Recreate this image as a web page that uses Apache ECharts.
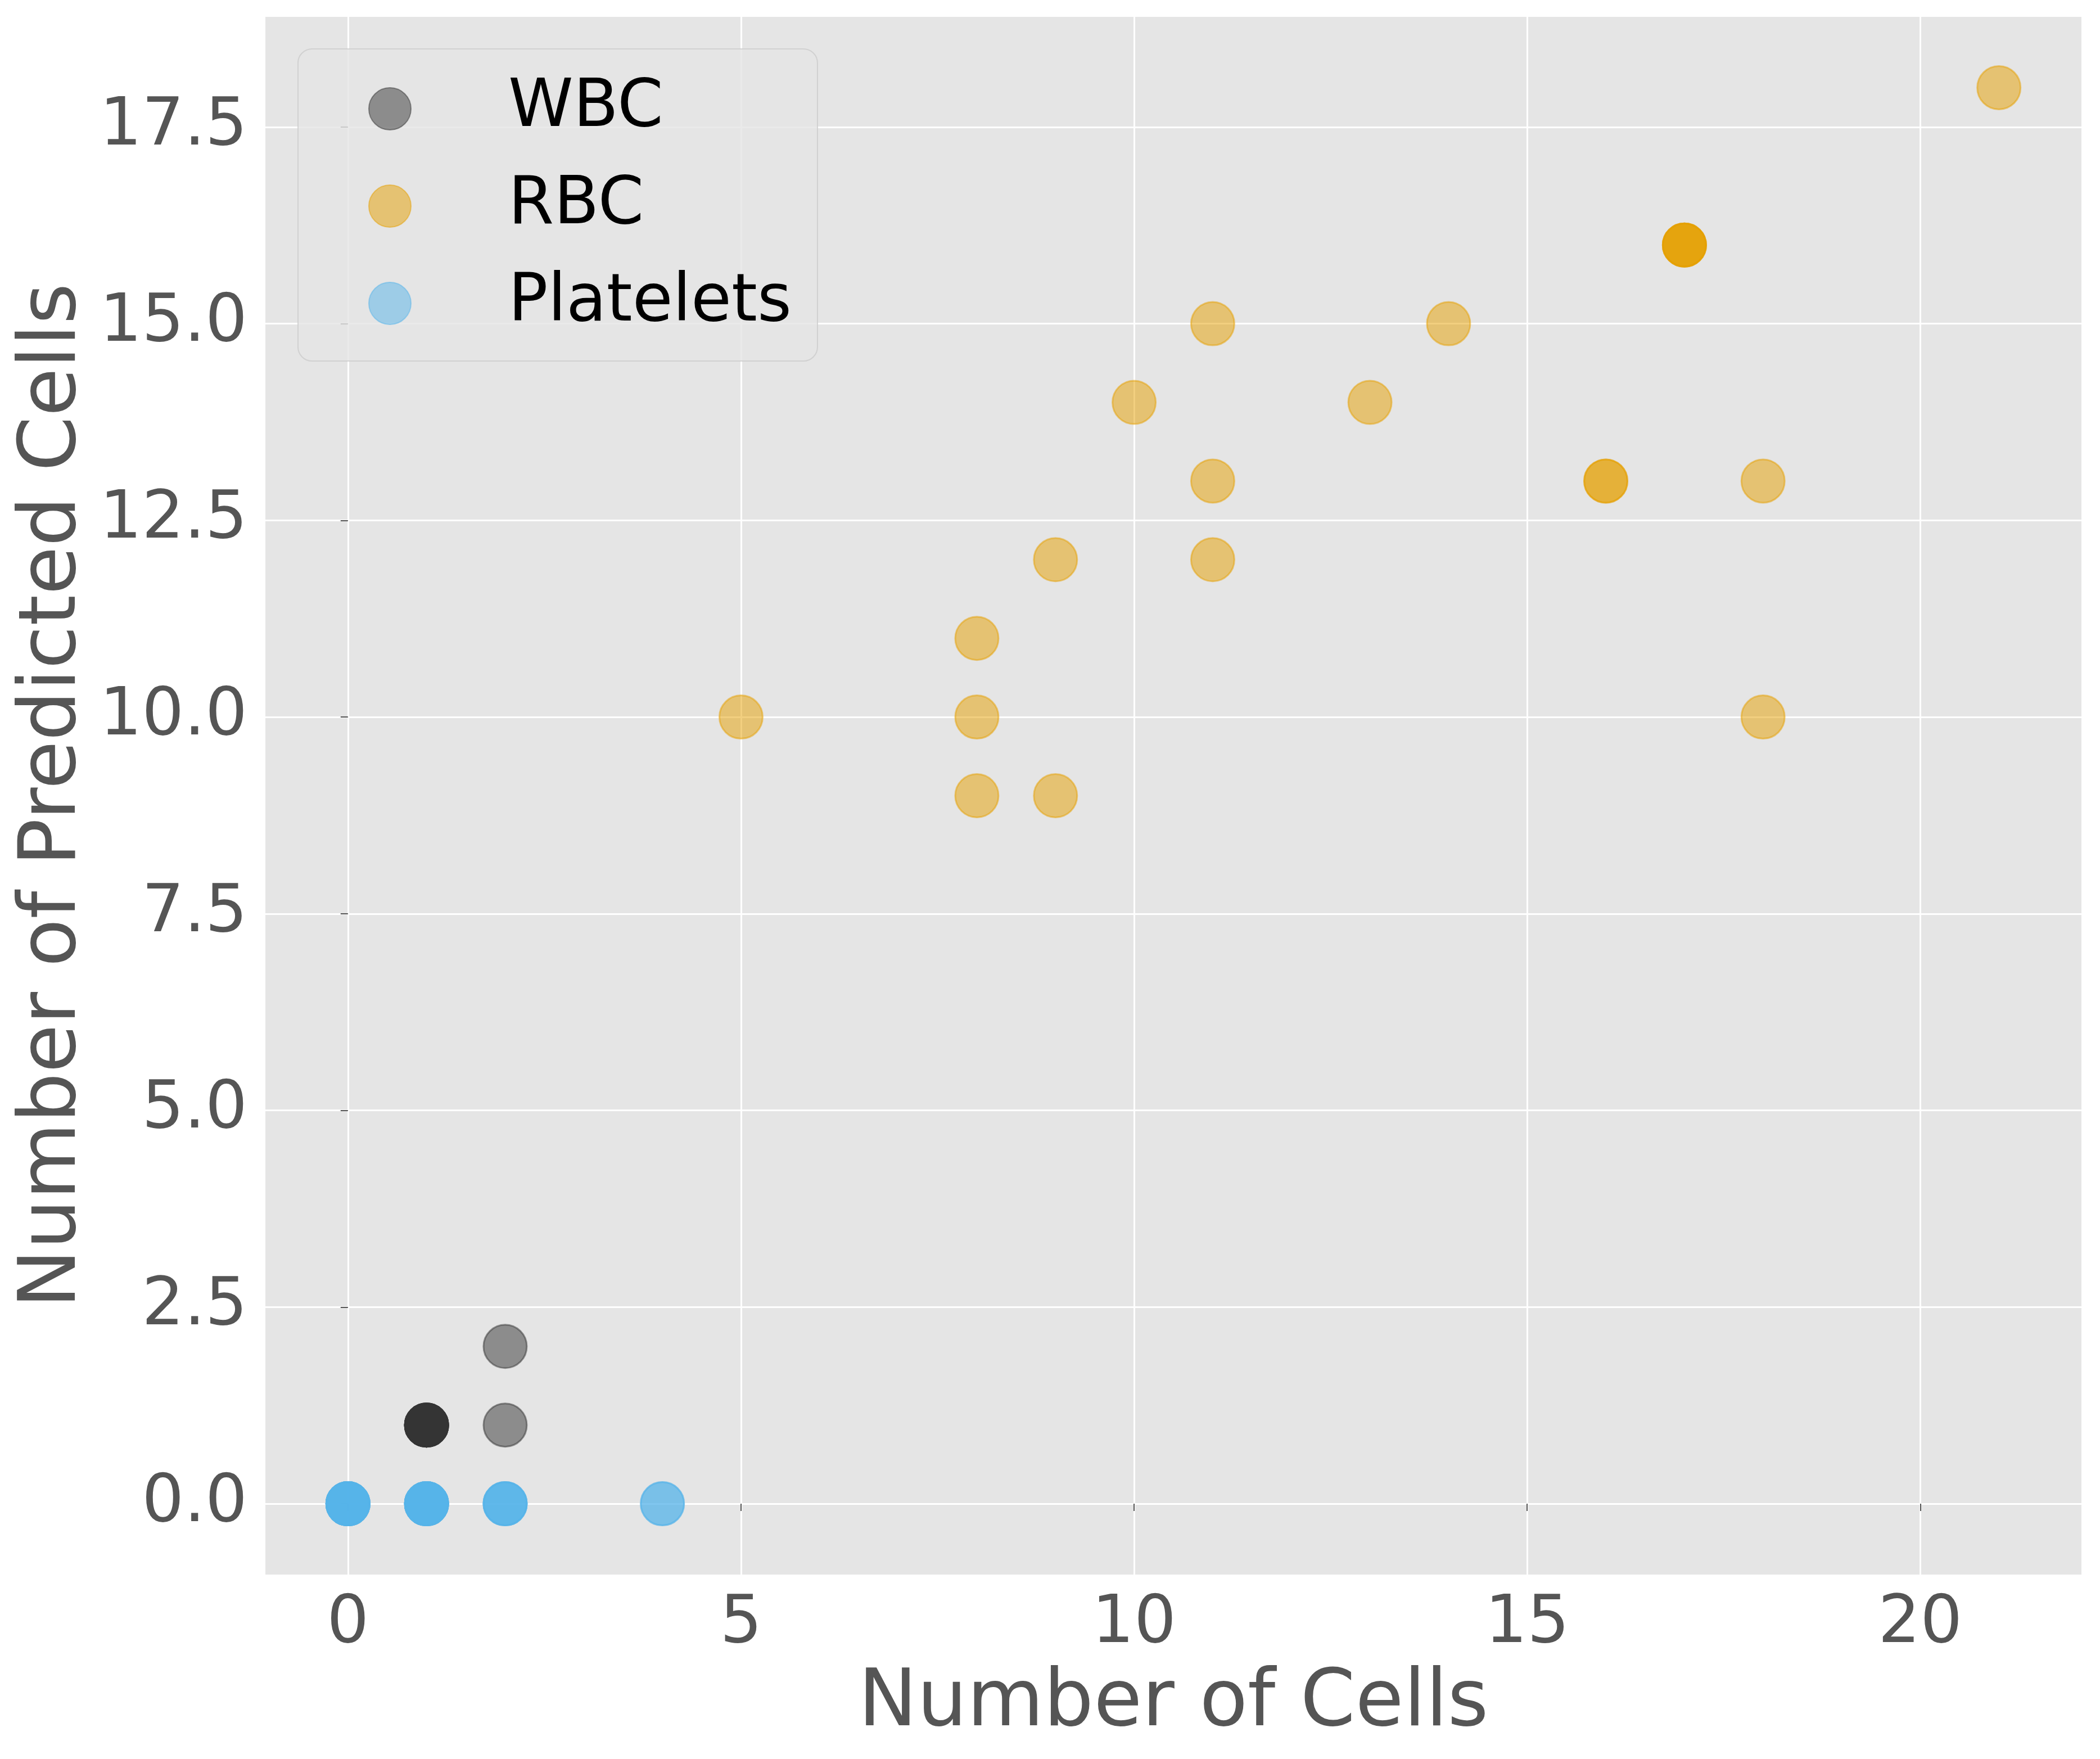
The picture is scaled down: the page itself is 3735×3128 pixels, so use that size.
<!DOCTYPE html>
<html>
<head>
<meta charset="utf-8">
<script src="https://cdn.jsdelivr.net/npm/echarts@6/dist/echarts.min.js"></script>
<style>html,body{margin:0;padding:0;background:#fff;}#c{width:3735px;height:3128px;}</style>
</head>
<body>
<div id="c"></div>
<script>
const wbcX = [1, 1, 1, 1, 1, 1, 1, 1, 2, 2];
const wbcY = [1, 1, 1, 1, 1, 1, 1, 1, 1, 2];
const rbcX = [5, 8, 8, 8, 9, 9, 10, 11, 11, 11, 13, 14, 16, 16, 17, 17, 17, 17, 18, 18, 21];
const rbcY = [10, 11, 10, 9, 12, 9, 14, 15, 13, 12, 14, 15, 13, 13, 16, 16, 16, 16, 13, 10, 18];
const pltX = [0, 0, 0, 0, 0, 0, 0, 0, 0, 0, 1, 1, 1, 1, 1, 1, 1, 1, 2, 2, 2, 2, 4, 4];
const pltY = [0, 0, 0, 0, 0, 0, 0, 0, 0, 0, 0, 0, 0, 0, 0, 0, 0, 0, 0, 0, 0, 0, 0, 0];
const seriesNames = ['WBC', 'RBC', 'Platelets'];
const xTicks = [0, 5, 10, 15, 20];
const yTicks = [0, 2.5, 5, 7.5, 10, 12.5, 15, 17.5];

const pair = (xs, ys) => xs.map((x, i) => [x, ys[i]]);
const colors = ['rgba(51,51,51,0.5)', 'rgba(230,159,0,0.5)', 'rgba(86,180,233,0.5)'];
const FONT = 'DejaVu Sans';

const chart = echarts.init(document.getElementById('c'), null, {renderer: 'canvas'});
function mkSeries(name, data, col) {
  return {
    name: name, type: 'scatter', data: data, symbol: 'circle', symbolSize: 77,
    itemStyle: {color: col, borderColor: col, borderWidth: 3, opacity: 1},
    emphasis: {disabled: true}, animation: false
  };
}
chart.setOption({
  animation: false,
  backgroundColor: '#ffffff',
  grid: {left: 472, right: 3735 - 3702, top: 30, bottom: 3128 - 2800, show: true,
         backgroundColor: '#E5E5E5', borderWidth: 0},
  xAxis: {
    type: 'value', min: -1.05, max: 22.05, interval: 5,
    name: 'Number of Cells', nameLocation: 'middle', nameGap: 162,
    nameTextStyle: {fontFamily: FONT, fontSize: 140, color: '#555555'},
    axisLine: {show: false},
    axisTick: {show: true, inside: false, length: 13, lineStyle: {color: '#555555', width: 2},
               customValues: xTicks},
    axisLabel: {fontFamily: FONT, fontSize: 118, color: '#555555', margin: 30,
                customValues: xTicks, formatter: v => String(v)},
    splitLine: {show: true, lineStyle: {color: '#ffffff', width: 3}, customValues: xTicks}
  },
  yAxis: {
    type: 'value', min: -0.9, max: 18.9,
    name: 'Number of Predicted Cells', nameLocation: 'middle', nameGap: 295,
    nameTextStyle: {fontFamily: FONT, fontSize: 140, color: '#555555'},
    axisLine: {show: false},
    axisTick: {show: true, inside: false, length: 13, lineStyle: {color: '#555555', width: 2},
               customValues: yTicks},
    axisLabel: {fontFamily: FONT, fontSize: 118, color: '#555555', margin: 32,
                padding: [30, 0, 0, 0],
                customValues: yTicks, formatter: v => Number(v).toFixed(1)},
    splitLine: {show: true, lineStyle: {color: '#ffffff', width: 3}, customValues: yTicks}
  },
  legend: {
    orient: 'vertical', left: 530, top: 87,
    data: seriesNames,
    icon: 'circle', itemWidth: 75, itemHeight: 75, itemGap: 56,
    padding: [48, 46, 44, 125],
    backgroundColor: 'rgba(229,229,229,0.8)', borderColor: 'rgba(204,204,204,0.8)',
    borderWidth: 2, borderRadius: 25,
    textStyle: {fontFamily: FONT, fontSize: 117, color: '#000000',
                padding: [0, 0, 0, 168]},
    selectedMode: false
  },
  series: [
    mkSeries(seriesNames[0], pair(wbcX, wbcY), colors[0]),
    mkSeries(seriesNames[1], pair(rbcX, rbcY), colors[1]),
    mkSeries(seriesNames[2], pair(pltX, pltY), colors[2])
  ]
});
</script>
</body>
</html>
